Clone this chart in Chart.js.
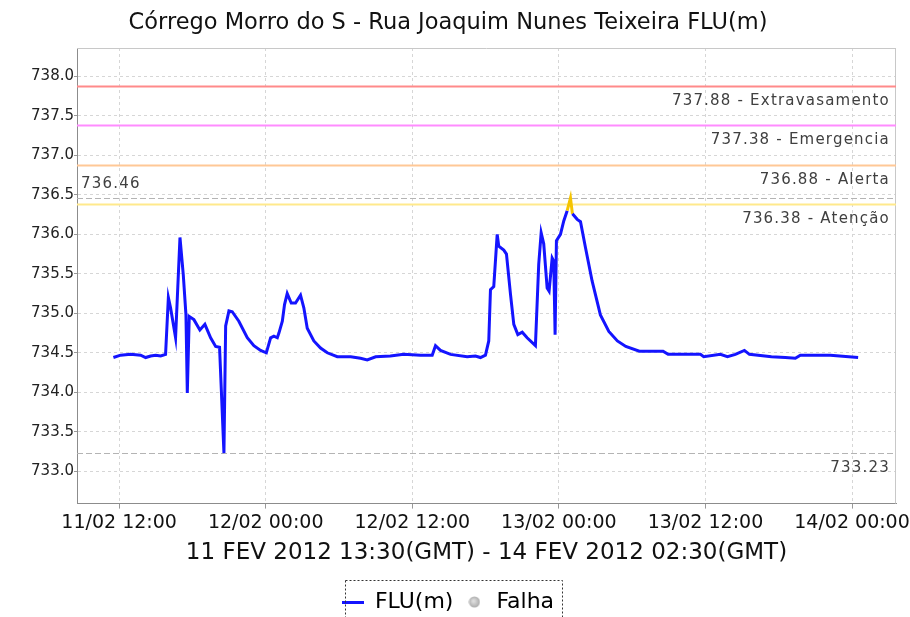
<!DOCTYPE html>
<html>
<head>
<meta charset="utf-8">
<script src="https://cdn.jsdelivr.net/npm/chart.js@4/dist/chart.umd.min.js"></script>
<style>
  html, body { margin: 0; padding: 0; background: #fff; }
  #box { width: 910px; height: 617px; }
</style>
</head>
<body>
<div id="box"><canvas id="flu" width="910" height="617"></canvas></div>
<script>
// hours counted from 11/02 00:00 (local time), water level in metres
const hours = [11.53, 12.12, 12.94, 13.76, 14.17, 14.58, 14.99, 15.4, 15.8, 16.03,
  16.21, 16.62, 16.98, 17.25, 17.47, 17.58, 17.74, 18.12, 18.61, 19.02,
  19.49, 19.9, 20.22, 20.58, 20.72, 20.99, 21.26, 21.8, 22.49, 23.03,
  23.58, 24.05, 24.4, 24.67, 24.95, 25.08, 25.36, 25.54, 25.76, 26.09,
  26.44, 26.85, 27.12, 27.4, 27.94, 28.49, 29.04, 29.86, 30.96, 31.76,
  32.31, 33.0, 34.2, 35.3, 36.67, 37.63, 37.9, 38.31, 39.13, 40.49,
  41.17, 41.58, 41.99, 42.26, 42.4, 42.67, 42.95, 43.08, 43.49, 43.71,
  44.04, 44.31, 44.64, 45.0, 45.4, 46.08, 46.35, 46.55, 46.76, 47.04,
  47.2, 47.45, 47.58, 47.69, 47.8, 48.13, 48.4, 48.68, 48.95, 49.11,
  49.5, 49.77, 50.18, 50.72, 51.4, 52.09, 52.79, 53.48, 54.59, 56.53,
  56.94, 59.59, 59.86, 61.22, 61.8, 62.45, 63.19, 63.6, 65.4, 66.54,
  67.36, 67.77, 70.22, 72.5];
const levels = [734.44, 734.47, 734.48, 734.47, 734.44, 734.46, 734.47, 734.46, 734.48, 735.20,
  735.07, 734.69, 735.96, 735.49, 734.98, 733.99, 734.96, 734.92, 734.79, 734.86,
  734.69, 734.58, 734.57, 733.23, 734.84, 735.03, 735.02, 734.90, 734.69, 734.59,
  734.53, 734.50, 734.69, 734.71, 734.69, 734.75, 734.90, 735.11, 735.25, 735.13,
  735.13, 735.23, 735.07, 734.81, 734.65, 734.56, 734.50, 734.45, 734.45, 734.43,
  734.41, 734.45, 734.46, 734.48, 734.47, 734.47, 734.59, 734.53, 734.48, 734.45,
  734.46, 734.44, 734.47, 734.65, 735.30, 735.34, 736.00, 735.85, 735.80, 735.75,
  735.24, 734.86, 734.73, 734.76, 734.69, 734.59, 735.62, 736.02, 735.88, 735.32,
  735.28, 735.70, 735.66, 734.73, 735.92, 736.00, 736.17, 736.30, 736.46, 736.26,
  736.19, 736.16, 735.83, 735.41, 734.98, 734.77, 734.65, 734.58, 734.52, 734.52,
  734.48, 734.48, 734.45, 734.48, 734.45, 734.48, 734.53, 734.48, 734.45, 734.44,
  734.43, 734.47, 734.47, 734.44];

const tickHours = [12, 24, 36, 48, 60, 72];
const tickLabels = ['11/02 12:00', '12/02 00:00', '12/02 12:00', '13/02 00:00', '13/02 12:00', '14/02 00:00'];
const yTicks = [733.0, 733.5, 734.0, 734.5, 735.0, 735.5, 736.0, 736.5, 737.0, 737.5, 738.0];

const limitValues = [737.88, 737.38, 736.88, 736.38];
const limitNames = ['Extravasamento', 'Emergencia', 'Alerta', 'Atenção'];
const limitColors = ['#ff8a8a', '#ff8cff', '#ffc896', '#ffe98c'];

const maxLevel = 736.46;
const minLevel = 733.23;

const fontMain = "'DejaVu Sans', sans-serif";
const lineBlue = '#1414ff';

// small legend symbols
function symbol(w, h, draw) {
  const c = document.createElement('canvas');
  c.width = w; c.height = h;
  draw(c.getContext('2d'));
  return c;
}
const lineSym = symbol(22, 3, g => { g.fillStyle = lineBlue; g.fillRect(0, 0, 22, 3); });
const dotSym = symbol(12, 12, g => {
  const gr = g.createRadialGradient(5, 5, 1, 6, 6, 6);
  gr.addColorStop(0, '#dcdcdc'); gr.addColorStop(1, '#a8a8a8');
  g.fillStyle = gr; g.beginPath(); g.arc(6, 6, 5.5, 0, Math.PI * 2); g.fill();
});

// threshold lines, max/min markers, frame and legend box
const decor = {
  id: 'decor',
  beforeDatasetsDraw(chart) {
    const { ctx, chartArea: a, scales: { y } } = chart;
    ctx.save();
    ctx.strokeStyle = '#c8c8c8';
    ctx.lineWidth = 1;
    ctx.beginPath();
    ctx.moveTo(a.left, a.top + 0.5); ctx.lineTo(a.right, a.top + 0.5);
    ctx.moveTo(a.right - 0.5, a.top); ctx.lineTo(a.right - 0.5, a.bottom);
    ctx.stroke();

    ctx.setLineDash([6, 3]);
    ctx.strokeStyle = '#b4b4b4';
    [maxLevel, minLevel].forEach(v => {
      const py = Math.round(y.getPixelForValue(v)) + 0.5;
      ctx.beginPath(); ctx.moveTo(a.left, py); ctx.lineTo(a.right, py); ctx.stroke();
    });
    ctx.setLineDash([]);

    limitValues.forEach((v, i) => {
      const py = Math.round(y.getPixelForValue(v)) + 0.5;
      ctx.strokeStyle = limitColors[i];
      ctx.lineWidth = 2;
      ctx.beginPath(); ctx.moveTo(a.left, py); ctx.lineTo(a.right, py); ctx.stroke();
    });

    ctx.fillStyle = '#404040';
    ctx.font = "15px " + fontMain;
    ctx.letterSpacing = '1.2px';
    ctx.textAlign = 'right';
    ctx.textBaseline = 'middle';
    limitValues.forEach((v, i) => {
      const py = y.getPixelForValue(v);
      ctx.fillText(v.toFixed(2) + ' - ' + limitNames[i], a.right - 6, py + 15);
    });
    ctx.fillText(minLevel.toFixed(2), a.right - 6, y.getPixelForValue(minLevel) + 15);
    ctx.textAlign = 'left';
    ctx.fillText(maxLevel.toFixed(2), a.left + 4, y.getPixelForValue(maxLevel) - 14);
    ctx.letterSpacing = '0px';
    ctx.restore();
  },
  afterDraw(chart) {
    const lg = chart.legend;
    if (!lg || !lg.legendHitBoxes.length) return;
    const hb = lg.legendHitBoxes;
    const x0 = hb[0].left + 3;
    const x1 = hb[hb.length - 1].left + hb[hb.length - 1].width + 8;
    const top = hb[0].top + hb[0].height / 2 - 22;
    const ctx = chart.ctx;
    ctx.save();
    ctx.strokeStyle = '#333';
    ctx.lineWidth = 1;
    ctx.setLineDash([2, 2]);
    ctx.strokeRect(Math.round(x0) + 0.5, Math.round(top) + 0.5, Math.round(x1 - x0), 60);
    ctx.restore();
  }
};

new Chart(document.getElementById('flu'), {
  type: 'line',
  data: {
    datasets: [
      {
        label: 'FLU(m)',
        data: hours.map((h, i) => ({ x: h, y: levels[i] })),
        borderColor: lineBlue,
        borderWidth: 3,
        pointRadius: 0,
        tension: 0,
        segment: {
          borderColor: c => (c.p0.parsed.y > 736.38 || c.p1.parsed.y > 736.38) && c.p1.parsed.y > 736.2 && c.p0.parsed.y > 736.2 ? '#f5c400' : undefined
        }
      },
      {
        label: 'Falha',
        data: [],
        borderColor: '#c0c0c0',
        backgroundColor: '#c8c8c8',
        pointStyle: 'circle'
      }
    ]
  },
  options: {
    responsive: false,
    animation: false,
    layout: { padding: { left: 0, right: 14, top: 0, bottom: -6 } },
    plugins: {
      tooltip: { enabled: false },
      title: {
        display: true,
        text: 'Córrego Morro do S - Rua Joaquim Nunes Teixeira FLU(m)',
        color: '#111',
        font: { family: fontMain, size: 22.5, weight: 'normal' },
        padding: { top: 10, bottom: 11 }
      },
      legend: {
        position: 'bottom',
        labels: {
          color: '#111',
          font: { family: fontMain, size: 22 },
          usePointStyle: true,
          pointStyleWidth: 22,
          padding: 10,
          generateLabels: () => [
            { text: 'FLU(m)', pointStyle: lineSym, strokeStyle: lineBlue, fillStyle: lineBlue, lineWidth: 0, datasetIndex: 0 },
            { text: 'Falha', pointStyle: dotSym, strokeStyle: '#c0c0c0', fillStyle: '#d0d0d0', lineWidth: 0, datasetIndex: 1 }
          ]
        }
      }
    },
    scales: {
      x: {
        type: 'linear',
        min: 8.55,
        max: 75.6,
        afterBuildTicks: s => { s.ticks = tickHours.map(v => ({ value: v })); },
        afterFit: s => { s.paddingRight = 0; s.paddingLeft = 0; },
        ticks: {
          color: '#111',
          font: { family: fontMain, size: 19 },
          maxRotation: 0,
          autoSkip: false,
          padding: 3,
          callback: v => tickLabels[tickHours.indexOf(v)]
        },
        grid: { color: '#d6d6d6', tickLength: 5, tickColor: '#999' },
        border: { color: '#8c8c8c', dash: [3, 3], width: 1 },
        title: {
          display: true,
          text: '11 FEV 2012 13:30(GMT) - 14 FEV 2012 02:30(GMT)',
          color: '#111',
          font: { family: fontMain, size: 23 },
          padding: { top: 2, bottom: 14 }
        }
      },
      y: {
        min: 732.59,
        max: 738.36,
        afterBuildTicks: s => { s.ticks = yTicks.map(v => ({ value: v })); },
        afterFit: s => { s.width = 77; },
        ticks: {
          color: '#222',
          font: { family: fontMain, size: 15 },
          padding: 0,
          callback: v => v.toFixed(1)
        },
        grid: { color: '#d6d6d6', tickLength: 3, tickColor: '#999' },
        border: { color: '#8c8c8c', dash: [3, 3], width: 1 }
      }
    }
  },
  plugins: [decor]
});
</script>
</body>
</html>
